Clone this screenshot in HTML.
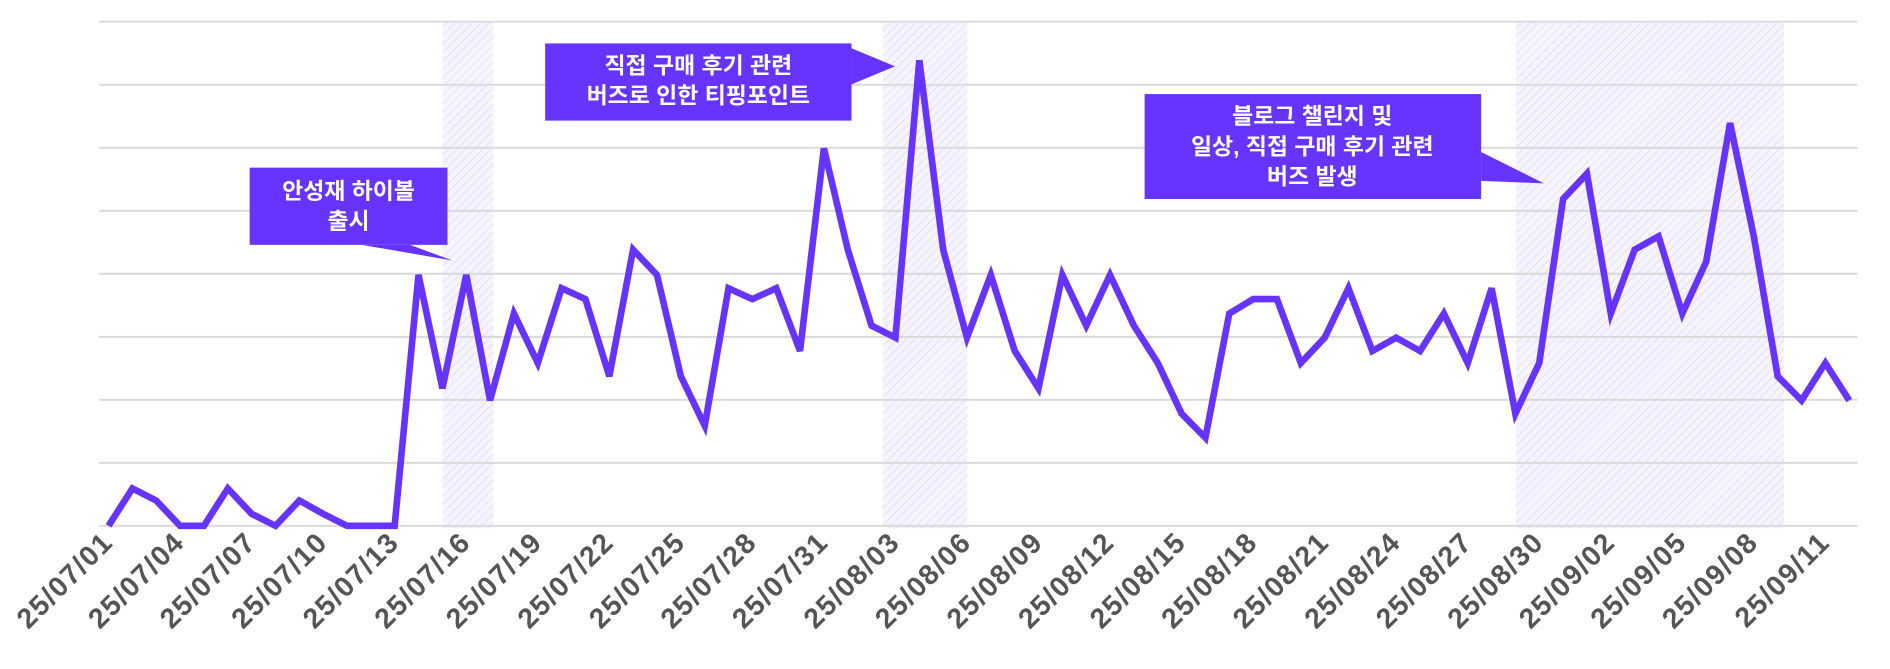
<!DOCTYPE html>
<html><head><meta charset="utf-8"><style>
html,body{margin:0;padding:0;background:#fff;}
svg{display:block;}
text{font-family:"Liberation Sans","Noto Sans CJK KR",sans-serif;font-weight:bold;}
</style></head><body>
<svg width="1890" height="669" viewBox="0 0 1567 554.7" preserveAspectRatio="none" xmlns="http://www.w3.org/2000/svg">
<defs>
<pattern id="h" width="5" height="5" patternUnits="userSpaceOnUse" patternTransform="rotate(45)">
<rect width="5" height="5" fill="#f6f4ff"/><line x1="0" y1="0" x2="0" y2="5" stroke="#e2dcff" stroke-width="1.5"/>
</pattern>
</defs>
<rect x="367" y="18" width="42" height="420" fill="url(#h)"/>
<rect x="732" y="18" width="70" height="420" fill="url(#h)"/>
<rect x="1257" y="18" width="222" height="420" fill="url(#h)"/>
<g stroke="#d9d9d9" stroke-width="1.6">
<line x1="82" x2="1540" y1="18" y2="18"/><line x1="82" x2="1540" y1="70.3" y2="70.3"/>
<line x1="82" x2="1540" y1="122.5" y2="122.5"/><line x1="82" x2="1540" y1="174.8" y2="174.8"/>
<line x1="82" x2="1540" y1="227" y2="227"/><line x1="82" x2="1540" y1="279.3" y2="279.3"/>
<line x1="82" x2="1540" y1="331.5" y2="331.5"/><line x1="82" x2="1540" y1="383.8" y2="383.8"/>
<line x1="82" x2="1540" y1="436" y2="436"/>
</g>
<polyline fill="none" stroke="#6633ff" stroke-width="5.5" points="90,436 109.8,405 129.5,415 149.3,436 169.1,436 188.9,405 208.6,426 228.4,436 248.2,415 267.9,426 287.7,436 307.5,436 327.2,436 347,228 366.8,322 386.6,228 406.3,332 426.1,260 445.9,301 465.6,239 485.4,248 505.2,312 524.9,207 544.7,228 564.5,312 584.3,353 604,239 623.8,248 643.6,239 663.3,291 683.1,123 702.9,207 722.6,270 742.4,280 762.2,50 782,207 801.7,280 821.5,228 841.3,291 861,322 880.8,228 900.6,270 920.3,228 940.1,270 959.9,301 979.7,343 999.4,363 1019.2,260 1039,248 1058.7,248 1078.5,301 1098.3,280 1118,239 1137.8,291 1157.6,280 1177.4,291 1197.1,260 1216.9,301 1236.7,239 1256.4,343 1276.2,301 1296,165 1315.7,144 1335.5,260 1355.3,207 1375.1,196 1394.8,260 1414.6,217 1434.4,102 1454.1,196 1473.9,312 1493.7,332 1513.4,301 1533.2,332"/>
<g fill="#555" font-size="23.5" text-anchor="end" letter-spacing="1.2">
<text transform="translate(95,451) rotate(-45)">25/07/01</text>
<text transform="translate(154.3,451) rotate(-45)">25/07/04</text>
<text transform="translate(213.6,451) rotate(-45)">25/07/07</text>
<text transform="translate(272.9,451) rotate(-45)">25/07/10</text>
<text transform="translate(332.2,451) rotate(-45)">25/07/13</text>
<text transform="translate(391.6,451) rotate(-45)">25/07/16</text>
<text transform="translate(450.9,451) rotate(-45)">25/07/19</text>
<text transform="translate(510.2,451) rotate(-45)">25/07/22</text>
<text transform="translate(569.5,451) rotate(-45)">25/07/25</text>
<text transform="translate(628.8,451) rotate(-45)">25/07/28</text>
<text transform="translate(688.1,451) rotate(-45)">25/07/31</text>
<text transform="translate(747.4,451) rotate(-45)">25/08/03</text>
<text transform="translate(806.7,451) rotate(-45)">25/08/06</text>
<text transform="translate(866,451) rotate(-45)">25/08/09</text>
<text transform="translate(925.3,451) rotate(-45)">25/08/12</text>
<text transform="translate(984.7,451) rotate(-45)">25/08/15</text>
<text transform="translate(1044,451) rotate(-45)">25/08/18</text>
<text transform="translate(1103.3,451) rotate(-45)">25/08/21</text>
<text transform="translate(1162.6,451) rotate(-45)">25/08/24</text>
<text transform="translate(1221.9,451) rotate(-45)">25/08/27</text>
<text transform="translate(1281.2,451) rotate(-45)">25/08/30</text>
<text transform="translate(1340.5,451) rotate(-45)">25/09/02</text>
<text transform="translate(1399.8,451) rotate(-45)">25/09/05</text>
<text transform="translate(1459.1,451) rotate(-45)">25/09/08</text>
<text transform="translate(1518.4,451) rotate(-45)">25/09/11</text>
</g>
<g fill="#6633ff">
<rect x="207" y="139" width="164" height="64"/><polygon points="300,203 340,203 375,216"/>
<rect x="452" y="36" width="254" height="64"/><polygon points="706,40 742,55 706,70"/>
<rect x="949" y="78" width="279" height="87"/><polygon points="1228,126 1280,152 1228,150"/>
</g>
<g fill="#fff" font-size="19" text-anchor="middle">
<text x="289" y="165">안성재 하이볼</text><text x="289" y="190">출시</text>
<text x="579" y="61">직접 구매 후기 관련</text><text x="579" y="86">버즈로 인한 티핑포인트</text>
<text x="1088" y="103">블로그 챌린지 및</text><text x="1088" y="128">일상, 직접 구매 후기 관련</text><text x="1088" y="153">버즈 발생</text>
</g>
</svg>
</body></html>
